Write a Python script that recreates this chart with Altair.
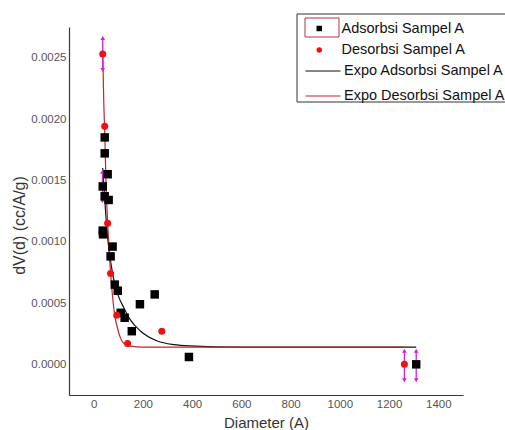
import altair as alt
import pandas as pd

# Adsorbsi (black squares)
ads_x = [45, 45, 57, 37, 45, 61, 37, 38, 77, 69, 86, 98, 110, 126, 155, 188, 248, 387, 1310]
ads_y = [0.00185, 0.00172, 0.00155, 0.00145, 0.00137, 0.00134, 0.00109, 0.00106, 0.00096, 0.00088,
         0.00065, 0.00060, 0.00042, 0.00038, 0.00027, 0.00049, 0.00057, 0.00006, 0.0]
# Desorbsi (red circles)
des_x = [37, 45, 57, 69, 94, 138, 277, 1262]
des_y = [0.00253, 0.00194, 0.00115, 0.00074, 0.00040, 0.00017, 0.00027, 0.0]

# Fitted exponential curves
fitA_x = [37, 45, 56, 72, 83, 100, 123, 150, 191, 259, 327, 387, 600, 1310]
fitA_y = [0.00160, 0.00135, 0.00105, 0.00080, 0.00068, 0.00056, 0.00046, 0.00036, 0.00027,
          0.00019, 0.00016, 0.00015, 0.00014, 0.00014]
fitD_x = [37, 41, 45, 50, 57, 63, 69, 83, 103, 123, 150, 200, 1262]
fitD_y = [0.00255, 0.00215, 0.00190, 0.00150, 0.00115, 0.00092, 0.00074, 0.00044, 0.00025,
          0.00017, 0.000148, 0.00014, 0.00014]

# magenta error bars
err_x = [37, 36, 1262, 1310]
err_lo = [0.00240, 0.00133, -0.00013, -0.00013]
err_hi = [0.00266, 0.00157, 0.00011, 0.00011]

ser_names = ["Adsorbsi Sampel A", "Desorbsi Sampel A"]
fit_names = ["Expo Adsorbsi Sampel A", "Expo Desorbsi Sampel A"]

ads = pd.DataFrame({"x": ads_x, "y": ads_y, "ser": [ser_names[0]] * len(ads_x)})
des = pd.DataFrame({"x": des_x, "y": des_y, "ser": [ser_names[1]] * len(des_x)})
fits = pd.DataFrame({
    "x": fitA_x + fitD_x,
    "y": fitA_y + fitD_y,
    "fit": [fit_names[0]] * len(fitA_x) + [fit_names[1]] * len(fitD_x),
})
errs = pd.DataFrame({"x": err_x, "lo": err_lo, "hi": err_hi})

FONT = "Liberation Sans"
xscale = alt.Scale(domain=[-100, 1500], nice=False, zero=False)
yscale = alt.Scale(domain=[-0.00025, 0.00275], nice=False, zero=False)

xax = alt.Axis(values=[0, 200, 400, 600, 800, 1000, 1200, 1400], format="d", title="Diameter (A)",
               titleX=197, titleY=27, titleBaseline="middle", titleAlign="center")
yax = alt.Axis(values=[0, 0.0005, 0.001, 0.0015, 0.002, 0.0025], format=".4f",
               title="dV(d) (cc/A/g)", titleX=-50, titleY=198, titleBaseline="middle",
               titleAlign="center")

X = alt.X("x:Q", scale=xscale, axis=xax)
Y = alt.Y("y:Q", scale=yscale, axis=yax)

lines = alt.Chart(fits).mark_line(strokeWidth=1.2, interpolate="monotone").encode(
    x=X, y=Y,
    stroke=alt.Stroke("fit:N", scale=alt.Scale(domain=fit_names, range=["#111111", "#c0262a"]),
                      legend=alt.Legend(title=None, orient="none", legendX=235.5, legendY=25.5,
                                        symbolType="stroke", symbolSize=1225,
                                        symbolStrokeWidth=1.2, labelOffset=2.5, labelLimit=400,
                                        labelFont=FONT, labelFontSize=14.5, labelColor="#111",
                                        rowPadding=-20, padding=0)),
    order=alt.Order("x:Q"),
)

err_rule = alt.Chart(errs).mark_rule(color="#d61ed6", strokeWidth=1.3).encode(
    x=alt.X("x:Q", scale=xscale, axis=xax),
    y=alt.Y("lo:Q", scale=yscale, axis=yax),
    y2="hi:Q",
)
err_top = alt.Chart(errs).mark_point(shape="triangle-up", filled=True, color="#d61ed6", size=22,
                                     opacity=1).encode(
    x=alt.X("x:Q", scale=xscale, axis=xax),
    y=alt.Y("hi:Q", scale=yscale, axis=yax),
)
err_bot = alt.Chart(errs).mark_point(shape="triangle-down", filled=True, color="#d61ed6", size=22,
                                     opacity=1).encode(
    x=alt.X("x:Q", scale=xscale, axis=xax),
    y=alt.Y("lo:Q", scale=yscale, axis=yax),
)

leg_pts = dict(title=None, orient="none", legendX=243, legendY=-5.75,
               symbolSize=30, labelOffset=15, labelFont=FONT, labelLimit=400,
               labelFontSize=14.5, labelColor="#111", rowPadding=6.5, padding=0)
fill_enc = alt.Fill("ser:N", scale=alt.Scale(domain=ser_names, range=["#000000", "#ee1111"]),
                    legend=alt.Legend(**leg_pts))
shape_enc = alt.Shape("ser:N", scale=alt.Scale(domain=ser_names, range=["square", "circle"]),
                      legend=alt.Legend(**leg_pts))

sq = alt.Chart(ads).mark_point(filled=True, size=72, opacity=1).encode(
    x=X, y=Y, fill=fill_enc, shape=shape_enc)
ci = alt.Chart(des).mark_point(filled=True, size=50, opacity=1).encode(
    x=X, y=Y, fill=fill_enc, shape=shape_enc)

one = pd.DataFrame({"k": [0]})
frame = alt.Chart(one).mark_rect(
    fill="white", fillOpacity=0, stroke="#333333", strokeWidth=1
).encode(x=alt.value(228), x2=alt.value(470), y=alt.value(-13), y2=alt.value(75))
sel = alt.Chart(one).mark_rect(
    fill="white", fillOpacity=0, stroke="#b0343c", strokeWidth=1
).encode(x=alt.value(236), x2=alt.value(270), y=alt.value(-9), y2=alt.value(10))

chart = alt.layer(lines, err_rule, err_top, err_bot, sq, ci, frame, sel).properties(
    width=394, height=368,
    autosize=alt.AutoSizeParams(type="none"),
    padding={"left": 69, "top": 27, "right": 42, "bottom": 35},
    background="white",
).configure_view(stroke=None).configure_axis(
    grid=False, ticks=False, domainColor="#3a3a3a", domainWidth=1.2,
    labelColor="#555555", labelFont=FONT, labelFontSize=11.5, labelPadding=3,
    titleFont=FONT, titleColor="#333333", titleFontSize=15, titleFontWeight="normal",
).configure_axisY(titleFontSize=16, labelPadding=3)

chart.save("out.html", embed_options={"renderer": "svg", "actions": False})
